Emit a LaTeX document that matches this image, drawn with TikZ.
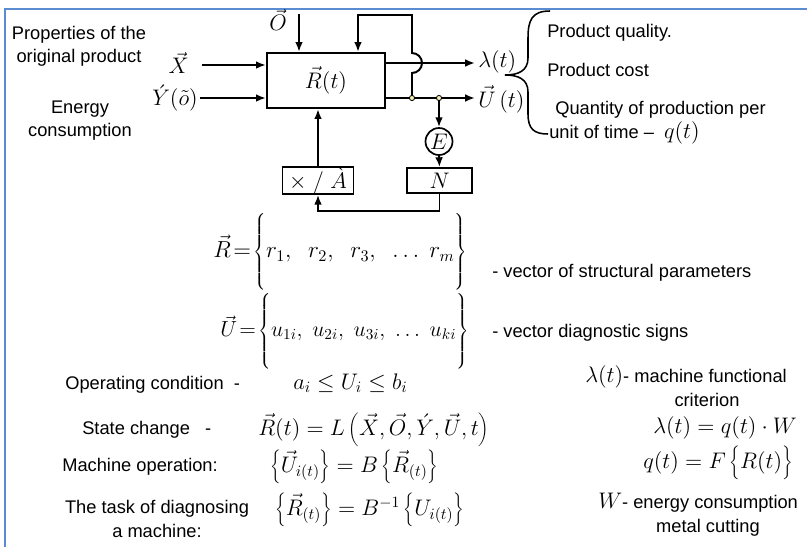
\documentclass[tikz,border=0pt]{standalone}
\usepackage{fix-cm}
\usepackage{fontspec}
\setmainfont{Liberation Sans}
\usetikzlibrary{calc,arrows.meta,positioning}
\definecolor{framebl}{HTML}{5B8BD0}
\definecolor{dotyel}{HTML}{F4EFB8}
\newcommand\mathsz{\fontsize{16}{19}\selectfont}
\newcommand\txtsz{\fontsize{13}{16.5}\selectfont}
\newcommand\tallstrut{\vphantom{\vrule height 31pt depth 23pt}}
\newcommand\midstrut{\vphantom{\vrule height 15pt depth 8pt}}
\tikzset{
  blk/.style={draw, line width=1.6pt, inner sep=0pt},
  ln/.style={line width=1.4pt},
  arr/.style={line width=1.4pt, -{Latex[length=7pt,width=5.5pt]}},
  txt/.style={font=\txtsz, inner sep=0pt},
  mth/.style={font=\mathsz, inner sep=0pt},
  bigm/.style={font=\fontsize{16.5}{20}\selectfont, inner sep=0pt},
}
\begin{document}
\begin{tikzpicture}[x=0.025cm, y=-0.025cm]
\useasboundingbox (0,0) rectangle (807,547);
\draw[framebl, line width=1.5pt] (5,547) -- (5,9) -- (807,9);

\node[blk, minimum width=118*0.025cm, minimum height=55*0.025cm, mth] (rt) at (326,80.5) {$\vec{R}(t)$};
\node[blk, line width=1.2pt, minimum width=71*0.025cm, minimum height=25*0.025cm, mth] (ma) at (318,180.5) {$\times\ /\ \grave{A}$};
\node[blk, line width=1.2pt, minimum width=65*0.025cm, minimum height=25*0.025cm, mth] (nn) at (439.5,180.5) {$N$};
\node[draw, circle, line width=1.2pt, minimum size=27*0.025cm, inner sep=0pt, mth] (ee) at (439,141.5) {$E$};

\coordinate (xin) at (202,65);
\coordinate (yin) at (200,98);
\coordinate (otop) at (299,14);
\coordinate (lout) at (475,63);
\coordinate (uout) at (475,98);
\coordinate (j1) at (412,98);
\coordinate (j2) at (439,98);
\coordinate (fb) at (358,15);

\node[mth, anchor=east] (xx) at (189,63) {$\vec{X}$};
\node[mth, anchor=east] (yy) at (198,98) {$\acute{Y}(\tilde{o})$};
\node[mth] (oo) at (278,20) {$\vec{O}$};
\node[mth, anchor=base west] (lam) at (478,67) {$\lambda(t)$};
\node[mth, anchor=base west] (uu) at (478,107) {$\vec{U}\,(t)$};

\draw[arr] (xin) -- (xin -| rt.west);
\draw[arr] (yin) -- (yin -| rt.west);
\draw[arr] (otop) -- (otop |- rt.north);
\draw[arr] (rt.east |- lout) -- (lout);
\draw[ln] (rt.east |- uout) -- (j1) -- (j2);
\draw[arr] (j2) -- (uout);
\draw[arr] (j1) -- ++(0,-25) arc[start angle=90, end angle=-90, radius=10] |- (fb) -- (fb |- rt.north);
\draw[arr] (j2) -- (ee.north);
\draw[arr] (ee.south) -- (nn.north);
\draw[arr] (ma.north) -- (ma.north |- rt.south);
\draw[arr] (nn.south) -- ++(0,17) -| (ma.south);
\filldraw[fill=dotyel, draw=black, line width=0.6pt] (j1) circle[radius=2.6];
\filldraw[fill=dotyel, draw=black, line width=0.6pt] (j2) circle[radius=2.6];

\node[txt, align=center] (prop) at (79,46) {Properties of the\\original product};
\node[txt, align=center] (enc) at (80,121) {Energy\\consumption};

\draw[line width=1.1pt] (550,11) .. controls (532,11) and (528,20) .. (528,38) -- (528,58)
  .. controls (528,71) and (518,75) .. (505,75) .. controls (518,75) and (528,79) .. (528,92)
  -- (528,114) .. controls (528,129) and (534,134) .. (548,134);
\node[txt, anchor=west] (pq) at (547,33) {Product quality.};
\node[txt, anchor=west] (pc) at (547,70) {Product cost};
\node[txt, anchor=west] (qp) at (555,110) {Quantity of production per};
\node[txt, anchor=base west] (ut) at (549,138) {unit of time -- \ {\mathsz$q(t)$}};

\node[bigm, anchor=west] (rset) at (213,252) {$\vec{R}\!=\!\left\{\tallstrut r_1,\ \ r_2,\ \ r_3,\ \ \dots\ r_m\right\}$};
\node[txt, anchor=west] (rdesc) at (492,273) {- vector of structural parameters};
\node[bigm, font=\fontsize{15.5}{19}\selectfont, anchor=west] (uset) at (220,331) {$\vec{U}\!=\!\left\{\tallstrut u_{1i},\ u_{2i},\ u_{3i},\ \dots\ u_{ki}\right\}$};
\node[txt, anchor=west] (udesc) at (492,333) {- vector diagnostic signs};

\node[txt, anchor=west] (oc) at (65,385) {Operating condition\ \ -};
\node[mth, anchor=west] (ocf) at (293,383) {$a_i\le U_i\le b_i$};
\node[txt, anchor=west] (sc) at (82,430) {State change\ \ \ -};
\node[mth, anchor=west] (scf) at (258,430) {$\vec{R}(t)=L\left(\midstrut\vec{X},\vec{O},\acute{Y},\vec{U},t\right)$};
\node[txt, anchor=west] (mo) at (62,467) {Machine operation:};
\node[mth, anchor=west] (mof) at (270,467) {$\left\{\midstrut\vec{U}_{i(t)}\right\}=B\left\{\midstrut\vec{R}_{(t)}\right\}$};
\node[txt, align=center] (td) at (157,519) {The task of diagnosing\\a machine:};
\node[mth, anchor=west] (tdf) at (275,510) {$\left\{\midstrut\vec{R}_{(t)}\right\}=B^{-1}\left\{\midstrut U_{i(t)}\right\}$};

\node[txt, anchor=west] (lamdef) at (585,377) {{\mathsz$\lambda(t)$}- machine functional};
\node[txt] (crit) at (707,400) {criterion};
\node[mth, anchor=west] (lamf) at (653,428) {$\lambda(t)=q(t)\cdot W$};
\node[mth, anchor=west] (qf) at (643,463) {$q(t)=F\left\{\midstrut R(t)\right\}$};
\node[txt, anchor=west] (wdef) at (598,503) {{\mathsz$W$}- energy consumption};
\node[txt] (wcut) at (708,528) {metal cutting};
\end{tikzpicture}
\end{document}
